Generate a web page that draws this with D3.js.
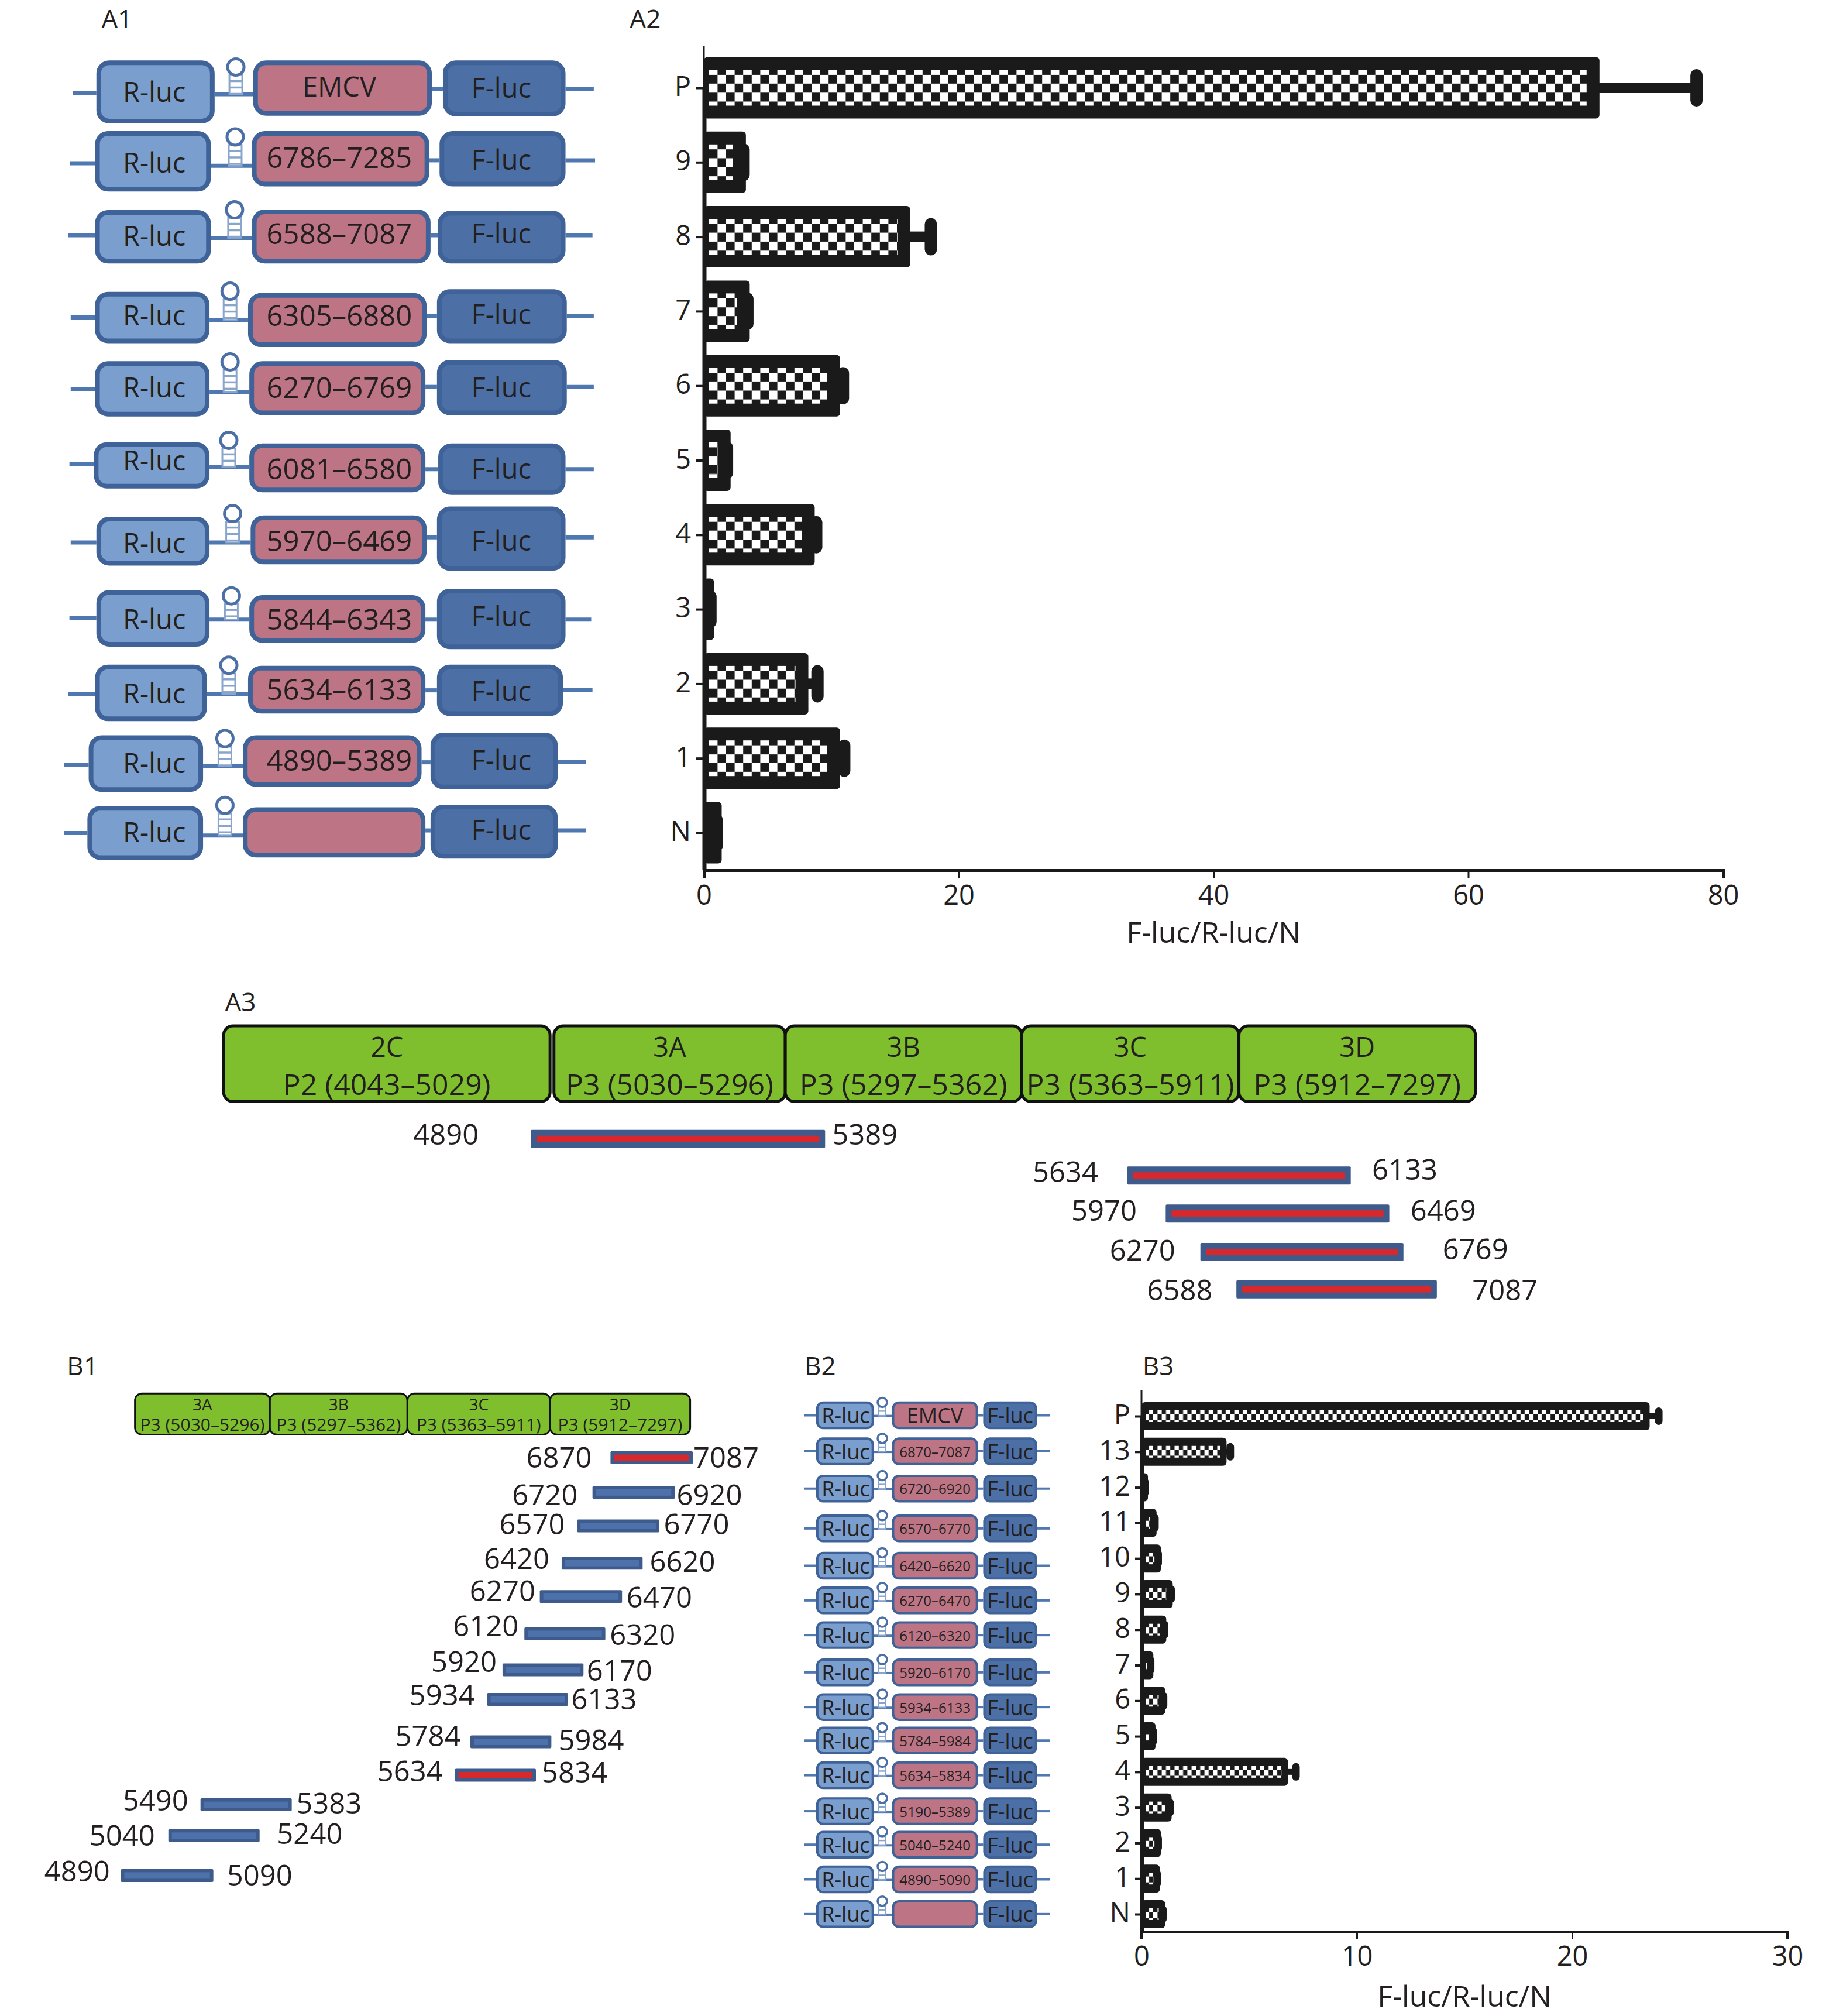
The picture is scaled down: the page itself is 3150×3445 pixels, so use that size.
<!DOCTYPE html>
<html>
<head>
<meta charset="utf-8">
<script src="https://cdn.jsdelivr.net/npm/d3@7"></script>
<style>
    body { margin: 0; background: #fff; }
    text { font-family: 'Open Sans', sans-serif; fill: #231f20; }
</style>
</head>
<body>
<div id="chart"></div>
<script>
// bar chart values
const a2Categories = ['P', '9', '8', '7', '6', '5', '4', '3', '2', '1', 'N']
const a2Values = [70.3, 3.3, 16.2, 3.6, 10.7, 2.1, 8.7, 0.8, 8.2, 10.7, 1.4]
const a2ErrorEnds = [78.4, 3.6, 18.3, 3.9, 11.4, 2.3, 9.3, 1.0, 9.4, 11.5, 1.5]
const a2Ticks = [0, 20, 40, 60, 80]

const b3Categories = ['P', '13', '12', '11', '10', '9', '8', '7', '6', '5', '4', '3', '2', '1', 'N']
const b3Values = [23.6, 3.95, 0.3, 0.7, 0.9, 1.45, 1.15, 0.55, 1.1, 0.65, 6.8, 1.4, 0.9, 0.85, 1.1]
const b3ErrorEnds = [24.2, 4.3, 0.35, 0.8, 0.95, 1.55, 1.25, 0.6, 1.2, 0.73, 7.35, 1.5, 0.95, 0.9, 1.17]
const b3Ticks = [0, 10, 20, 30]

const axisTitle = 'F-luc/R-luc/N'

// construct labels
const a1Labels = ['EMCV', '6786–7285', '6588–7087', '6305–6880', '6270–6769', '6081–6580',
    '5970–6469', '5844–6343', '5634–6133', '4890–5389', '']
const b2Labels = ['EMCV', '6870–7087', '6720–6920', '6570–6770', '6420–6620', '6270–6470',
    '6120–6320', '5920–6170', '5934–6133', '5784–5984', '5634–5834', '5190–5389',
    '5040–5240', '4890–5090', '']

// polyprotein labels
const a3Proteins = ['2C', '3A', '3B', '3C', '3D']
const a3Regions = ['P2 (4043–5029)', 'P3 (5030–5296)', 'P3 (5297–5362)', 'P3 (5363–5911)', 'P3 (5912–7297)']
const b1Proteins = ['3A', '3B', '3C', '3D']
const b1Regions = ['P3 (5030–5296)', 'P3 (5297–5362)', 'P3 (5363–5911)', 'P3 (5912–7297)']

// fragment end labels
const a3Starts = ['4890', '5634', '5970', '6270', '6588']
const a3Ends = ['5389', '6133', '6469', '6769', '7087']
const b1Starts = ['6870', '6720', '6570', '6420', '6270', '6120', '5920', '5934', '5784', '5634', '5490', '5040', '4890']
const b1Ends = ['7087', '6920', '6770', '6620', '6470', '6320', '6170', '6133', '5984', '5834', '5383', '5240', '5090']
const b1Active = ['6870', '5634']

// layout tables, in units of the 1434 wide page
// left line, R x0 x1 y0 y1, hairpin x top, mid x0 x1 y0 y1, F x0 x1 y0 y1, right line, line y left/mid/midF/right
const a1Layout = [
    [56.5, 75, 167, 47, 96, 183.5, 44.6, 197, 336, 47, 90, 344.6, 440, 47, 90.6, 462, 72.4, 73.3, 69.2, 69.2],
    [54.6, 74, 164, 102, 149, 183, 99, 196, 334, 102, 145, 342, 440, 102, 145, 463, 127, 129, 124.7, 124.7],
    [53, 74, 164, 163.4, 205, 182.5, 155.7, 196, 335, 163, 205, 340.5, 440, 164, 205, 461, 183, 185, 183, 183],
    [55, 74, 163, 227, 267, 179, 219, 193, 332, 228, 270, 340, 441, 225, 267, 462, 247, 249, 246, 246],
    [55, 74, 163, 281, 324, 179, 274, 194, 331, 281, 323, 340, 441, 280, 323, 462, 303, 305, 301, 301],
    [54, 73, 163, 344, 380, 178, 335, 194, 331, 345, 383, 341, 440, 345, 385, 462, 361, 363, 365, 365],
    [55, 75, 163, 402, 440, 181, 392, 195, 332, 401, 439, 340, 440, 394, 444, 462, 422, 422, 418, 418],
    [54, 75, 163, 459, 503, 180, 456, 194, 331, 463, 500, 340, 440, 458, 505, 460, 481, 482, 482, 482],
    [53, 74, 161, 517, 561, 178, 510, 193, 331, 518, 555, 340, 438, 517, 557, 461, 540, 540, 537, 537],
    [50, 69, 158, 572, 616, 175, 567, 189, 328, 572, 612, 335, 434, 570, 614, 456, 595, 596, 593, 593],
    [50, 68, 158, 627, 669, 175, 619, 189, 331, 628, 667, 335, 434, 626, 668, 456, 648, 650, 646, 646],
]
// text centres inside the A1 boxes: R, mid, F
const a1TextX = [120, 264, 390]
const a1TextY = [
    [71, 67, 68], [126, 122, 124], [183, 181, 181], [245, 245, 244], [301, 301, 301], [358, 364, 364],
    [422, 420, 420], [481, 481, 479], [539, 536, 537], [593, 591, 591], [647, 647, 645],
]
const b2RowY = [1101, 1129, 1158, 1189, 1218, 1245, 1272, 1301, 1328, 1354, 1381, 1409, 1435, 1462, 1489]
const a3BoxX = [[174, 428], [431, 611], [611, 795], [795, 964], [964, 1148]]
const b1BoxX = [[105, 210], [210, 317], [317, 428], [428, 537]]
// x0, x1, y, left label x, left label y, right label x, right label y
const a3Frags = [
    [413, 642, 886, 347, 882, 673, 882],
    [877, 1051, 914.5, 829, 911, 1093, 909],
    [907, 1081, 944, 859, 941, 1123, 941],
    [934, 1092, 974, 889, 972, 1148, 971],
    [962, 1118, 1003, 918, 1003, 1171, 1003],
]
const b1Frags = [
    [475, 539, 1134, 435, 1133, 565, 1133],
    [461, 525, 1161, 424, 1162, 552, 1162],
    [449, 513, 1187, 414, 1185, 542, 1185],
    [437, 500, 1216, 402, 1212, 531, 1214],
    [420, 484, 1242, 391, 1237, 513, 1242],
    [408, 471, 1271, 378, 1264, 500, 1271],
    [391, 454, 1299, 361, 1292, 482, 1299],
    [379, 442, 1322, 344, 1318, 470, 1321],
    [366, 429, 1355, 333, 1350, 460, 1353],
    [354, 417, 1381, 319, 1377, 447, 1378],
    [156, 227, 1404, 121, 1400, 256, 1402],
    [131, 202, 1428, 95, 1427, 241, 1426],
    [94, 166, 1459, 60, 1455, 202, 1458],
]

const width = 3150
const height = 3445
const u = d3.scaleLinear().domain([0, 1434]).range([0, width])

const colors = {
    rluc: '#7a9fcf',
    mid: '#bd7485',
    fluc: '#4c70a6',
    border: '#3f6298',
    line: '#4f77b0',
    stem: '#8aa5cc',
    green: '#7fbf2e',
    ink: '#1a1a1a',
    fragBorder: '#3f5b8c',
    fragFill: '#4d72ab',
    red: '#d9282c',
}

const svg = d3.select('#chart').append('svg')
    .attr('width', width)
    .attr('height', height)
    .attr('viewBox', `0 0 ${width} ${height}`)
    .style('display', 'block')
const defs = svg.append('defs')

// checker fill for the bars
function addChecker(id, cw, ch) {
    const p = defs.append('pattern')
        .attr('id', id)
        .attr('patternUnits', 'userSpaceOnUse')
        .attr('width', cw * 2)
        .attr('height', ch * 2)
    p.append('rect').attr('width', cw * 2).attr('height', ch * 2).attr('fill', '#fff')
    p.append('rect').attr('x', cw).attr('width', cw).attr('height', ch).attr('fill', colors.ink)
    p.append('rect').attr('y', ch).attr('width', cw).attr('height', ch).attr('fill', colors.ink)
}

function panelLabel(text, x, baseline) {
    svg.append('text')
        .attr('x', u(x))
        .attr('y', u(baseline))
        .style('font-size', '44px')
        .text(text)
}

function centerText(g, text, x, y, size) {
    g.append('text')
        .attr('x', x)
        .attr('y', y)
        .attr('text-anchor', 'middle')
        .attr('dominant-baseline', 'central')
        .style('font-size', `${size}px`)
        .text(text)
}

function drawBarChart(cfg) {
    const g = svg.append('g')
    const x = d3.scaleLinear().domain(cfg.domain).range(cfg.xRange)
    const y = d3.scalePoint().domain(cfg.categories).range(cfg.yRange)
    addChecker(cfg.patternId, cfg.cellW, cfg.cellH)

    const rows = cfg.categories.map((c, i) => ({
        c,
        v: cfg.values[i],
        e: cfg.errors[i],
    }))

    // thin axis tip, then the heavy part
    g.append('line')
        .attr('x1', x(0)).attr('x2', x(0))
        .attr('y1', cfg.axisTop).attr('y2', cfg.yRange[0])
        .attr('stroke', colors.ink).attr('stroke-width', 3)
    g.append('line')
        .attr('x1', x(0) + 1).attr('x2', x(0) + 1)
        .attr('y1', cfg.yRange[0]).attr('y2', cfg.axisY)
        .attr('stroke', colors.ink).attr('stroke-width', 7)

    const yAxis = d3.axisLeft(y).tickSize(cfg.tickLen).tickPadding(8)
    g.append('g')
        .attr('transform', `translate(${x(0)},0)`)
        .call(yAxis)
        .style('font-size', `${cfg.fontSize}px`)
        .style('font-family', "'Open Sans', sans-serif")
        .call((a) => a.select('.domain').remove())
        .call((a) => a.selectAll('line').attr('stroke', colors.ink).attr('stroke-width', 4))
        .call((a) => a.selectAll('text').attr('dy', '0.29em'))

    const bars = g.selectAll('g.bar')
        .data(rows)
        .enter()
        .append('g')
        .attr('class', 'bar')
        .attr('transform', (d) => `translate(0,${y(d.c) - cfg.barH / 2})`)

    // error bar first so the bar sits on top of the stem
    bars.append('rect')
        .attr('x', (d) => x(d.v) - 4)
        .attr('y', (cfg.barH - cfg.stemH) / 2)
        .attr('width', (d) => Math.max(0, x(d.e) - x(d.v)))
        .attr('height', cfg.stemH)
        .attr('fill', colors.ink)
    bars.append('rect')
        .attr('x', (d) => x(d.e) - cfg.capW)
        .attr('y', (cfg.barH - cfg.capH) / 2)
        .attr('width', cfg.capW)
        .attr('height', cfg.capH)
        .attr('rx', cfg.capW / 2)
        .attr('fill', colors.ink)

    bars.append('rect')
        .attr('x', x(0))
        .attr('width', (d) => x(d.v) - x(0))
        .attr('height', cfg.barH)
        .attr('rx', 6)
        .attr('fill', colors.ink)
    bars.append('rect')
        .attr('x', x(0) + cfg.borderL)
        .attr('y', cfg.borderV)
        .attr('width', (d) => Math.max(0, x(d.v) - x(0) - cfg.borderL - cfg.borderR))
        .attr('height', cfg.barH - cfg.borderV * 2)
        .attr('fill', `url(#${cfg.patternId})`)

    const xAxis = d3.axisBottom(x).tickValues(cfg.ticks).tickSize(cfg.xTickLen).tickPadding(13)
    g.append('g')
        .attr('transform', `translate(0,${cfg.axisY})`)
        .call(xAxis)
        .style('font-size', `${cfg.fontSize}px`)
        .style('font-family', "'Open Sans', sans-serif")
        .call((a) => a.select('.domain')
            .attr('stroke', colors.ink).attr('stroke-width', 5))
        .call((a) => a.selectAll('line').attr('stroke', colors.ink).attr('stroke-width', 3))

    centerText(g, axisTitle, cfg.titleX, cfg.titleY, cfg.titleSize)
}

function drawHairpin(g, cx, top, bottom, r, stemW, sw) {
    const cy = top + r + sw / 2
    const stemTop = cy + r
    g.append('rect')
        .attr('x', cx - stemW / 2)
        .attr('y', stemTop)
        .attr('width', stemW)
        .attr('height', Math.max(0, bottom - stemTop))
        .attr('fill', '#fff')
        .attr('stroke', colors.stem)
        .attr('stroke-width', sw * 0.6)
    d3.range(stemTop + sw * 2, bottom, sw * 2.2).forEach((ry) => {
        g.append('line')
            .attr('x1', cx - stemW / 2).attr('x2', cx + stemW / 2)
            .attr('y1', ry).attr('y2', ry)
            .attr('stroke', colors.stem)
            .attr('stroke-width', sw * 0.7)
    })
    g.append('circle')
        .attr('cx', cx).attr('cy', cy).attr('r', r)
        .attr('fill', '#fff')
        .attr('stroke', colors.fluc)
        .attr('stroke-width', sw)
}

function drawBox(g, x0, x1, y0, y1, fill, style) {
    g.append('rect')
        .attr('x', u(x0) + style.border / 2)
        .attr('y', u(y0) + style.border / 2)
        .attr('width', u(x1) - u(x0) - style.border)
        .attr('height', u(y1) - u(y0) - style.border)
        .attr('rx', style.radius)
        .attr('fill', fill)
        .attr('stroke', colors.border)
        .attr('stroke-width', style.border)
}

function drawConstruct(row, label, style, textX, textY) {
    const [lineL, rx0, rx1, ry0, ry1, hx, hTop, mx0, mx1, my0, my1, fx0, fx1, fy0, fy1, lineR, yL, yM, yMF, yR] = row
    const g = svg.append('g')
    const seg = (a, b, yy) => g.append('line')
        .attr('x1', u(a)).attr('x2', u(b))
        .attr('y1', u(yy)).attr('y2', u(yy))
        .attr('stroke', colors.line)
        .attr('stroke-width', style.line)
    seg(lineL, rx0, yL)
    seg(rx1, mx0, yM)
    seg(mx1, fx0, yMF)
    seg(fx1, lineR, yR)
    drawHairpin(g, u(hx), u(hTop), u(yM), style.headR, style.stemW, style.headSw)
    drawBox(g, rx0, rx1, ry0, ry1, colors.rluc, style)
    drawBox(g, mx0, mx1, my0, my1, colors.mid, style)
    drawBox(g, fx0, fx1, fy0, fy1, colors.fluc, style)
    centerText(g, 'R-luc', u(textX[0]), u(textY[0]), style.font)
    if (label) {
        centerText(g, label, u(textX[1]), u(textY[1]), label === 'EMCV' ? style.font : style.midFont)
    }
    centerText(g, 'F-luc', u(textX[2]), u(textY[2]), style.font)
}

function drawPolyprotein(boxX, proteins, regions, cfg) {
    const g = svg.append('g')
    boxX.forEach(([x0, x1], i) => {
        g.append('rect')
            .attr('x', u(x0))
            .attr('y', u(cfg.y0))
            .attr('width', u(x1) - u(x0))
            .attr('height', u(cfg.y1) - u(cfg.y0))
            .attr('rx', cfg.radius)
            .attr('fill', colors.green)
            .attr('stroke', '#111')
            .attr('stroke-width', cfg.stroke)
        const cx = (u(x0) + u(x1)) / 2
        centerText(g, proteins[i], cx, u(cfg.y0) + cfg.line1, cfg.font1)
        centerText(g, regions[i], cx, u(cfg.y0) + cfg.line2, cfg.font2)
    })
}

function drawFragments(frags, starts, ends, isRed, cfg) {
    const g = svg.append('g')
    frags.forEach(([x0, x1, y, lx, ly, rx, ry], i) => {
        const red = isRed(starts[i])
        g.append('rect')
            .attr('x', u(x0))
            .attr('y', u(y) - cfg.h / 2)
            .attr('width', u(x1) - u(x0))
            .attr('height', cfg.h)
            .attr('rx', 2)
            .attr('fill', colors.fragBorder)
        g.append('rect')
            .attr('x', u(x0) + cfg.inset)
            .attr('y', u(y) - cfg.innerH / 2)
            .attr('width', u(x1) - u(x0) - cfg.inset * 2)
            .attr('height', cfg.innerH)
            .attr('fill', red ? colors.red : colors.fragFill)
        centerText(g, starts[i], u(lx), u(ly), cfg.font)
        centerText(g, ends[i], u(rx), u(ry), cfg.font)
    })
}

// panel labels
panelLabel('A1', 79, 21.8)
panelLabel('A2', 490, 21.8)
panelLabel('A3', 175, 786.5)
panelLabel('B1', 52, 1069.7)
panelLabel('B2', 626, 1069.7)
panelLabel('B3', 889, 1069.7)

// A1 constructs
const a1Style = { border: 8, radius: 18, line: 7, font: 47, midFont: 49, headR: 14, stemW: 22, headSw: 5 }
a1Layout.forEach((row, i) => drawConstruct(row, a1Labels[i], a1Style, a1TextX, a1TextY[i]))

// A2 bars
drawBarChart({
    categories: a2Categories,
    values: a2Values,
    errors: a2ErrorEnds,
    ticks: a2Ticks,
    domain: [0, 80],
    xRange: [1203, 2945],
    yRange: [150, 1423],
    axisTop: 78,
    axisY: 1487,
    barH: 105,
    borderL: 8,
    borderR: 22,
    borderV: 22,
    cellW: 14.6,
    cellH: 15.2,
    capW: 21,
    capH: 64,
    stemH: 18,
    tickLen: 14,
    xTickLen: 13,
    fontSize: 47,
    titleSize: 50,
    titleX: 2074,
    titleY: 1592,
    patternId: 'checker-a2',
})

// A3 map
drawPolyprotein(a3BoxX, a3Proteins, a3Regions, {
    y0: 798, y1: 857, radius: 16, stroke: 5, line1: 35, line2: 99, font1: 47, font2: 50,
})
drawFragments(a3Frags, a3Starts, a3Ends, () => true, { h: 31, innerH: 11, inset: 10, font: 49 })

// B1 map
drawPolyprotein(b1BoxX, b1Proteins, b1Regions, {
    y0: 1084, y1: 1116, radius: 12, stroke: 3, line1: 18, line2: 52, font1: 28, font2: 30,
})
drawFragments(b1Frags, b1Starts, b1Ends, (s) => b1Active.includes(s), { h: 22, innerH: 11, inset: 6, font: 49 })

// B2 constructs
const b2Style = { border: 4, radius: 10, line: 4, font: 36, midFont: 24, headR: 8, stemW: 12, headSw: 3.5 }
b2RowY.forEach((yc, i) => {
    const half = 10.8
    drawConstruct(
        [625.5, 635, 680, yc - half, yc + half, 686.5, yc - 14.5, 694, 761, yc - half, yc + half,
            765, 807, yc - half, yc + half, 817, yc, yc + 0.5, yc, yc],
        b2Labels[i],
        b2Style,
        [658, 727.5, 786],
        [yc, yc, yc]
    )
})

// B3 bars
drawBarChart({
    categories: b3Categories,
    values: b3Values,
    errors: b3ErrorEnds,
    ticks: b3Ticks,
    domain: [0, 30],
    xRange: [1951, 3055],
    yRange: [2420, 3271],
    axisTop: 2376,
    axisY: 3301,
    barH: 48,
    borderL: 7,
    borderR: 11,
    borderV: 14,
    cellW: 7.3,
    cellH: 10.2,
    capW: 13,
    capH: 30,
    stemH: 10,
    tickLen: 11,
    xTickLen: 12,
    fontSize: 47,
    titleSize: 50,
    titleX: 2503,
    titleY: 3410,
    patternId: 'checker-b3',
})
</script>
</body>
</html>
